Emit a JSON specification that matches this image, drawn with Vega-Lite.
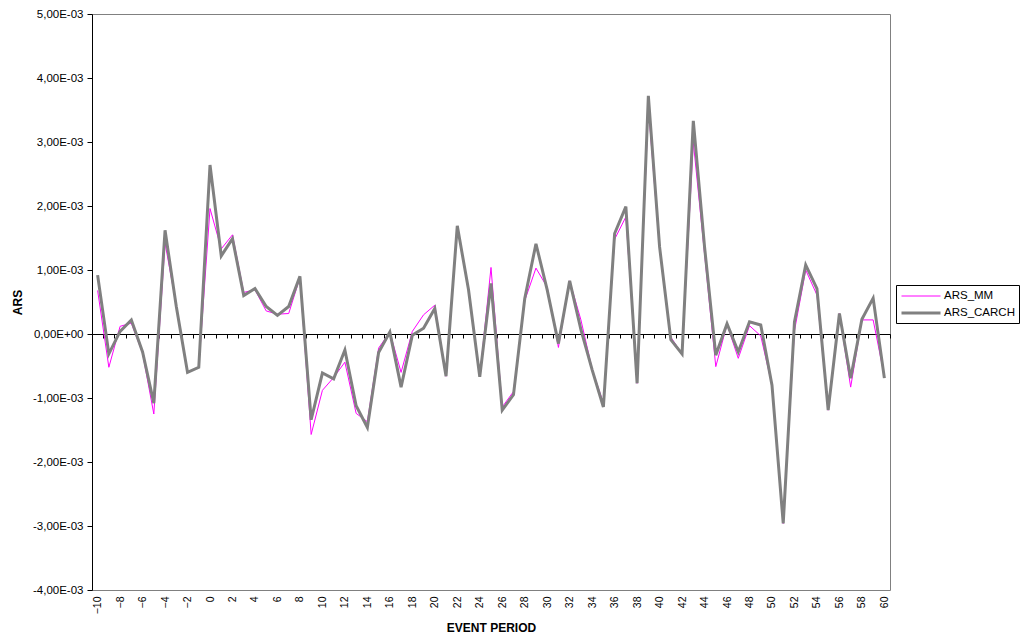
{
  "$schema": "https://vega.github.io/schema/vega-lite/v6.json",
  "width": 798,
  "height": 576,
  "autosize": {"type": "none"},
  "padding": {"left": 92, "top": 14, "right": 132, "bottom": 49},
  "background": "white",
  "config": {
    "view": {"stroke": "#808080", "strokeWidth": 1},
    "font": "Liberation Sans",
    "legend": {
      "orient": "none",
      "legendX": 804,
      "legendY": 271,
      "title": null,
      "strokeColor": "black",
      "fillColor": "white",
      "padding": 4,
      "labelFont": "Liberation Sans",
      "labelFontSize": 11.5,
      "labelColor": "black",
      "labelOffset": 28,
      "symbolType": "M-1,0L5,0",
      "symbolSize": 169,
      "rowPadding": 3
    }
  },
  "data": {
    "values": [
      {"e": -10, "ARS_MM": 0.00068, "ARS_CARCH": 0.00092},
      {"e": -9, "ARS_MM": -0.00052, "ARS_CARCH": -0.00031},
      {"e": -8, "ARS_MM": 0.00012, "ARS_CARCH": 0.00004},
      {"e": -7, "ARS_MM": 0.00017, "ARS_CARCH": 0.00022},
      {"e": -6, "ARS_MM": -0.0003, "ARS_CARCH": -0.00028},
      {"e": -5, "ARS_MM": -0.00125, "ARS_CARCH": -0.00108},
      {"e": -4, "ARS_MM": 0.00142, "ARS_CARCH": 0.00162},
      {"e": -3, "ARS_MM": 0.00045, "ARS_CARCH": 0.00043},
      {"e": -2, "ARS_MM": -0.0006, "ARS_CARCH": -0.0006},
      {"e": -1, "ARS_MM": -0.00052, "ARS_CARCH": -0.00052},
      {"e": 0, "ARS_MM": 0.00196, "ARS_CARCH": 0.00264},
      {"e": 1, "ARS_MM": 0.00133, "ARS_CARCH": 0.00122},
      {"e": 2, "ARS_MM": 0.00155, "ARS_CARCH": 0.00149},
      {"e": 3, "ARS_MM": 0.00065, "ARS_CARCH": 0.0006},
      {"e": 4, "ARS_MM": 0.00069, "ARS_CARCH": 0.00071},
      {"e": 5, "ARS_MM": 0.00036, "ARS_CARCH": 0.00043},
      {"e": 6, "ARS_MM": 0.00031, "ARS_CARCH": 0.00029},
      {"e": 7, "ARS_MM": 0.00032, "ARS_CARCH": 0.00043},
      {"e": 8, "ARS_MM": 0.00088, "ARS_CARCH": 0.0009},
      {"e": 9, "ARS_MM": -0.00157, "ARS_CARCH": -0.00134},
      {"e": 10, "ARS_MM": -0.00088, "ARS_CARCH": -0.00061},
      {"e": 11, "ARS_MM": -0.00068, "ARS_CARCH": -0.0007},
      {"e": 12, "ARS_MM": -0.00044, "ARS_CARCH": -0.00025},
      {"e": 13, "ARS_MM": -0.00124, "ARS_CARCH": -0.00112},
      {"e": 14, "ARS_MM": -0.00137, "ARS_CARCH": -0.00146},
      {"e": 15, "ARS_MM": -0.00022, "ARS_CARCH": -0.00029},
      {"e": 16, "ARS_MM": 0.00003, "ARS_CARCH": 0.00003},
      {"e": 17, "ARS_MM": -0.0006, "ARS_CARCH": -0.00083},
      {"e": 18, "ARS_MM": 0.00004, "ARS_CARCH": -0.00002},
      {"e": 19, "ARS_MM": 0.0003, "ARS_CARCH": 0.00009},
      {"e": 20, "ARS_MM": 0.00045, "ARS_CARCH": 0.0004},
      {"e": 21, "ARS_MM": -0.00066, "ARS_CARCH": -0.00066},
      {"e": 22, "ARS_MM": 0.00168, "ARS_CARCH": 0.00169},
      {"e": 23, "ARS_MM": 0.00069, "ARS_CARCH": 0.00069},
      {"e": 24, "ARS_MM": -0.00067, "ARS_CARCH": -0.00067},
      {"e": 25, "ARS_MM": 0.00104, "ARS_CARCH": 0.00079},
      {"e": 26, "ARS_MM": -0.00114, "ARS_CARCH": -0.00119},
      {"e": 27, "ARS_MM": -0.0009, "ARS_CARCH": -0.00095},
      {"e": 28, "ARS_MM": 0.00052, "ARS_CARCH": 0.00055},
      {"e": 29, "ARS_MM": 0.00103, "ARS_CARCH": 0.00141},
      {"e": 30, "ARS_MM": 0.00073, "ARS_CARCH": 0.00069},
      {"e": 31, "ARS_MM": -0.00021, "ARS_CARCH": -0.00015},
      {"e": 32, "ARS_MM": 0.00083, "ARS_CARCH": 0.00083},
      {"e": 33, "ARS_MM": 0.00022, "ARS_CARCH": 0.00007},
      {"e": 34, "ARS_MM": -0.00055, "ARS_CARCH": -0.00056},
      {"e": 35, "ARS_MM": -0.00108, "ARS_CARCH": -0.00114},
      {"e": 36, "ARS_MM": 0.00148, "ARS_CARCH": 0.00157},
      {"e": 37, "ARS_MM": 0.00183, "ARS_CARCH": 0.00199},
      {"e": 38, "ARS_MM": -0.00077, "ARS_CARCH": -0.00077},
      {"e": 39, "ARS_MM": 0.00355, "ARS_CARCH": 0.00372},
      {"e": 40, "ARS_MM": 0.00133, "ARS_CARCH": 0.00136},
      {"e": 41, "ARS_MM": -0.00005, "ARS_CARCH": -0.00009},
      {"e": 42, "ARS_MM": -0.00031, "ARS_CARCH": -0.00031},
      {"e": 43, "ARS_MM": 0.003, "ARS_CARCH": 0.00333},
      {"e": 44, "ARS_MM": 0.00125, "ARS_CARCH": 0.00136},
      {"e": 45, "ARS_MM": -0.00051, "ARS_CARCH": -0.00033},
      {"e": 46, "ARS_MM": 0.00015, "ARS_CARCH": 0.00016},
      {"e": 47, "ARS_MM": -0.00038, "ARS_CARCH": -0.00028},
      {"e": 48, "ARS_MM": 0.00013, "ARS_CARCH": 0.00019},
      {"e": 49, "ARS_MM": -0.00003, "ARS_CARCH": 0.00014},
      {"e": 50, "ARS_MM": -0.0008, "ARS_CARCH": -0.0008},
      {"e": 51, "ARS_MM": -0.00296, "ARS_CARCH": -0.00296},
      {"e": 52, "ARS_MM": 0.00005, "ARS_CARCH": 0.00019},
      {"e": 53, "ARS_MM": 0.001, "ARS_CARCH": 0.00108},
      {"e": 54, "ARS_MM": 0.00061, "ARS_CARCH": 0.00071},
      {"e": 55, "ARS_MM": -0.00119, "ARS_CARCH": -0.00119},
      {"e": 56, "ARS_MM": 0.00032, "ARS_CARCH": 0.00032},
      {"e": 57, "ARS_MM": -0.00083, "ARS_CARCH": -0.00069},
      {"e": 58, "ARS_MM": 0.00022, "ARS_CARCH": 0.00023},
      {"e": 59, "ARS_MM": 0.00022, "ARS_CARCH": 0.00056},
      {"e": 60, "ARS_MM": -0.00066, "ARS_CARCH": -0.00069}
    ]
  },
  "transform": [{"fold": ["ARS_MM", "ARS_CARCH"], "as": ["series", "value"]}],
  "encoding": {
    "y": {
      "field": "value",
      "type": "quantitative",
      "scale": {"domain": [-0.004, 0.005], "nice": false, "zero": false},
      "axis": {
        "title": "ARS",
        "titleFont": "Liberation Sans",
        "titleFontSize": 12,
        "titleFontWeight": "bold",
        "titleColor": "black",
        "titlePadding": 8,
        "values": [-0.004, -0.003, -0.002, -0.001, 0, 0.001, 0.002, 0.003, 0.004, 0.005],
        "labelExpr": "datum.value == 0 ? '0,00E+00' : (datum.value < 0 ? '-' : '') + replace(format(abs(datum.value) * 1000, '.2f'), '.', ',') + 'E-03'",
        "labelFont": "Liberation Sans",
        "labelFontSize": 11.5,
        "labelColor": "black",
        "labelPadding": 4,
        "tickSize": 5,
        "tickColor": "black",
        "domainColor": "black",
        "grid": false
      }
    },
    "color": {
      "field": "series",
      "type": "nominal",
      "scale": {"domain": ["ARS_MM", "ARS_CARCH"], "range": ["#FF00FF", "#808080"]}
    },
    "strokeWidth": {
      "field": "series",
      "type": "nominal",
      "scale": {"domain": ["ARS_MM", "ARS_CARCH"], "range": [1, 3]}
    }
  },
  "layer": [
    {
      "transform": [{"filter": "datum.series == 'ARS_MM'"}],
      "mark": {"type": "line"},
      "encoding": {
        "x": {
          "field": "e",
          "type": "quantitative",
          "scale": {"domain": [-10.5, 60.5], "nice": false, "zero": false},
          "axis": {
            "orient": "bottom",
            "title": "EVENT PERIOD",
            "titleFont": "Liberation Sans",
            "titleFontSize": 12,
            "titleFontWeight": "bold",
            "titleColor": "black",
            "titlePadding": 9,
            "values": [-10, -8, -6, -4, -2, 0, 2, 4, 6, 8, 10, 12, 14, 16, 18, 20, 22, 24, 26, 28, 30, 32, 34, 36, 38, 40, 42, 44, 46, 48, 50, 52, 54, 56, 58, 60],
            "labelAngle": -90,
            "labelAlign": "right",
            "labelBaseline": "middle",
            "labelFont": "Liberation Sans",
            "labelFontSize": 10.5,
            "labelColor": "black",
            "labelPadding": 6,
            "labelFlush": false,
            "labelOverlap": false,
            "ticks": false,
            "domain": false,
            "grid": false
          }
        }
      }
    },
    {
      "transform": [{"filter": "datum.series == 'ARS_CARCH'"}],
      "mark": {"type": "line"},
      "encoding": {
        "x": {
          "field": "e",
          "type": "quantitative",
          "scale": {"domain": [-10.5, 60.5], "nice": false, "zero": false},
          "axis": {
            "orient": "top",
            "offset": -320,
            "title": null,
            "labels": false,
            "values": [-10.5, -9.5, -8.5, -7.5, -6.5, -5.5, -4.5, -3.5, -2.5, -1.5, -0.5, 0.5, 1.5, 2.5, 3.5, 4.5, 5.5, 6.5, 7.5, 8.5, 9.5, 10.5, 11.5, 12.5, 13.5, 14.5, 15.5, 16.5, 17.5, 18.5, 19.5, 20.5, 21.5, 22.5, 23.5, 24.5, 25.5, 26.5, 27.5, 28.5, 29.5, 30.5, 31.5, 32.5, 33.5, 34.5, 35.5, 36.5, 37.5, 38.5, 39.5, 40.5, 41.5, 42.5, 43.5, 44.5, 45.5, 46.5, 47.5, 48.5, 49.5, 50.5, 51.5, 52.5, 53.5, 54.5, 55.5, 56.5, 57.5, 58.5, 59.5, 60.5],
            "tickSize": -4,
            "tickColor": "black",
            "domainColor": "black",
            "grid": false
          }
        }
      }
    }
  ],
  "resolve": {"scale": {"x": "shared"}, "axis": {"x": "independent"}}
}
